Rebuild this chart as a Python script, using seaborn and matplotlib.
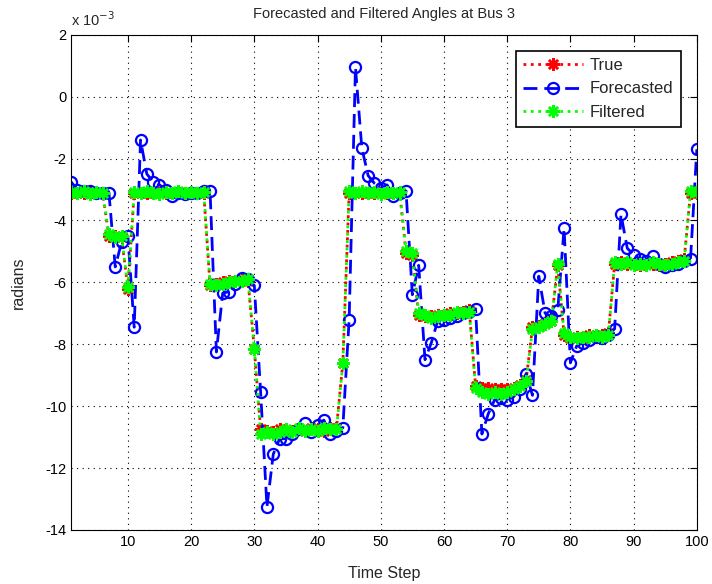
import matplotlib
matplotlib.use("Agg")
import matplotlib.pyplot as plt
import seaborn as sns
import numpy as np

# angles in units of 1e-3 rad, time steps 1..100
steps = np.arange(1, 101)

true_vals = [
    -3.10, -3.10, -3.10, -3.10, -3.10, -3.10, -4.50, -4.50, -4.55, -6.20,
    -3.10, -3.10, -3.10, -3.10, -3.10, -3.10, -3.10, -3.10, -3.10, -3.10,
    -3.10, -3.10, -6.10, -6.05, -6.00, -5.95, -5.95, -5.90, -5.95, -8.15,
    -10.75, -10.80, -10.85, -10.75, -10.80, -10.80, -10.75, -10.80, -10.70, -10.75,
    -10.80, -10.70, -10.70, -8.60, -3.10, -3.10, -3.10, -3.10, -3.10, -3.10,
    -3.10, -3.10, -3.10, -5.05, -5.10, -7.05, -7.10, -7.10, -7.05, -7.05,
    -7.00, -7.00, -6.95, -6.90, -9.35, -9.40, -9.40, -9.45, -9.45, -9.45,
    -9.40, -9.30, -9.15, -7.45, -7.40, -7.30, -7.25, -5.45, -7.70, -7.80,
    -7.75, -7.80, -7.70, -7.75, -7.70, -7.65, -5.40, -5.35, -5.40, -5.40,
    -5.45, -5.40, -5.40, -5.45, -5.40, -5.35, -5.30, -5.25, -3.10, -3.10,
]

forecast_vals = [
    -2.75, -3.00, -3.05, -3.05, -3.10, -3.10, -3.10, -5.50, -4.70, -4.50,
    -7.45, -1.40, -2.50, -2.75, -2.85, -3.00, -3.20, -3.10, -3.15, -3.10,
    -3.10, -3.05, -3.05, -8.25, -6.35, -6.30, -6.05, -5.85, -5.90, -6.10,
    -9.55, -13.25, -11.55, -11.05, -11.05, -10.90, -10.75, -10.55, -10.85, -10.60,
    -10.45, -10.90, -10.80, -10.70, -7.20, 0.95, -1.65, -2.55, -2.80, -2.95,
    -2.85, -3.20, -3.10, -3.05, -6.40, -5.45, -8.50, -7.95, -7.25, -7.20,
    -7.15, -7.10, -7.00, -6.95, -6.85, -10.90, -10.25, -9.80, -9.75, -9.80,
    -9.70, -9.45, -8.95, -9.65, -5.80, -7.00, -7.10, -6.90, -4.25, -8.60,
    -8.05, -7.95, -7.85, -7.75, -7.80, -7.70, -7.50, -3.80, -4.90, -5.10,
    -5.25, -5.30, -5.15, -5.40, -5.50, -5.45, -5.40, -5.30, -5.25, -1.70,
]

filtered_vals = [
    -3.08, -3.12, -3.06, -3.13, -3.07, -3.11, -4.45, -4.55, -4.50, -6.15,
    -3.08, -3.12, -3.05, -3.10, -3.13, -3.07, -3.12, -3.06, -3.11, -3.08,
    -3.12, -3.07, -6.05, -6.10, -6.05, -6.00, -5.95, -5.95, -5.90, -8.15,
    -10.90, -10.85, -10.90, -10.85, -10.75, -10.85, -10.70, -10.80, -10.75, -10.80,
    -10.70, -10.75, -10.75, -8.60, -3.05, -3.12, -3.06, -3.11, -3.08, -3.13,
    -3.07, -3.12, -3.08, -5.00, -5.05, -7.00, -7.05, -7.15, -7.10, -7.05,
    -7.05, -6.95, -7.00, -6.95, -9.40, -9.55, -9.60, -9.55, -9.60, -9.55,
    -9.45, -9.35, -9.20, -7.50, -7.45, -7.35, -7.25, -5.40, -7.65, -7.75,
    -7.80, -7.75, -7.75, -7.70, -7.75, -7.70, -5.35, -5.40, -5.35, -5.45,
    -5.40, -5.45, -5.35, -5.40, -5.45, -5.40, -5.35, -5.30, -3.05, -3.08,
]

sns.set_theme(style="white")
plt.rcParams['font.family'] = ['Liberation Sans', 'DejaVu Sans']
plt.rcParams['axes.unicode_minus'] = False
plt.rcParams['xtick.direction'] = 'in'
plt.rcParams['ytick.direction'] = 'in'

fig = plt.figure(figsize=(7.12, 5.84), dpi=100)
ax = fig.add_axes([0.0997, 0.0925, 0.879, 0.848])

star = (8, 2, 0)
sns.lineplot(x=steps, y=true_vals, ax=ax, color='red', linestyle=':', linewidth=2,
             marker=star, markersize=9, markeredgecolor='red', markeredgewidth=1.8,
             label='True')
sns.lineplot(x=steps, y=forecast_vals, ax=ax, color='blue', linestyle=(0, (5, 2.5)),
             linewidth=2, marker='o', markersize=8, markerfacecolor='none',
             markeredgecolor='blue', markeredgewidth=1.6, label='Forecasted')
sns.lineplot(x=steps, y=filtered_vals, ax=ax, color='#00ff00', linestyle=':',
             linewidth=2, marker=star, markersize=9, markeredgecolor='#00ff00',
             markeredgewidth=1.8, label='Filtered')

ax.set_xlim(1, 100)
ax.set_ylim(-14, 2)
ax.set_xticks(np.arange(10, 101, 10))
ax.set_yticks(np.arange(-14, 3, 2))
ax.tick_params(axis='both', labelsize=10.5, colors='black', top=True, right=True,
               length=5, width=0.8)
ax.grid(True, linestyle=(0, (1, 4)), color='black', linewidth=0.8)
for s in ax.spines.values():
    s.set_color('black')
    s.set_linewidth(0.8)

ax.set_title('Forecasted and Filtered Angles at Bus 3', fontsize=10.5, pad=12)
ax.set_xlabel('Time Step', fontsize=11.5, labelpad=12)
ax.set_ylabel('radians', fontsize=11.5, labelpad=14)
ax.text(0.0, 1.012, r'x 10$^{-3}$', transform=ax.transAxes, fontsize=10.5,
        ha='left', va='bottom')

leg = ax.legend(loc='upper right', bbox_to_anchor=(0.988, 0.985), fontsize=12,
                frameon=True, fancybox=False, framealpha=1, edgecolor='black',
                handlelength=3.6, handletextpad=0.4, borderpad=0.45,
                labelspacing=0.5)
leg.get_frame().set_linewidth(1.2)

fig.savefig('out.png', dpi=100, facecolor='white')
